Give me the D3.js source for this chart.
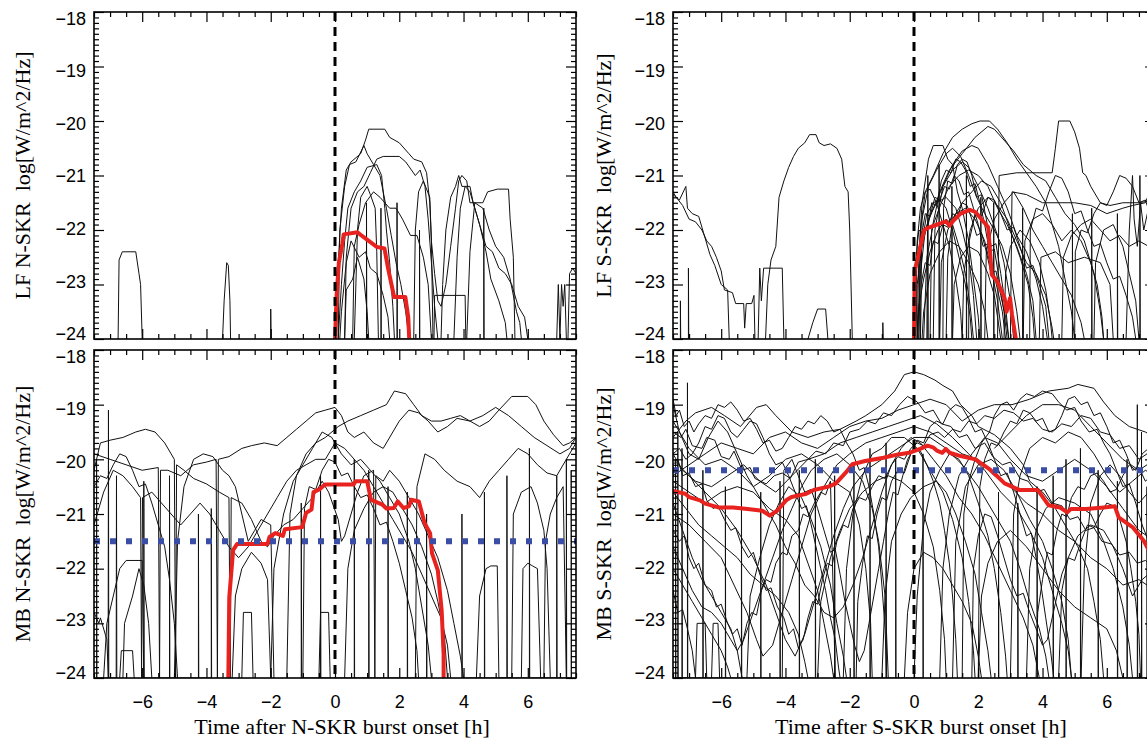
<!DOCTYPE html>
<html>
<head>
<meta charset="utf-8">
<script src="https://cdn.jsdelivr.net/npm/d3@7"></script>
<style>
body{margin:0;background:#fff}
svg{display:block}
</style>
</head>
<body>
<script>
// tick labels
var xTickValues = [-6, -4, -2, 0, 2, 4, 6];
var yTickValues = [-24, -23, -22, -21, -20, -19, -18];

// LF N-SKR: single events (hours after onset, log power)
var lfNorthTraces = [
  [[-6.75,-24],[-6.72,-22.55],[-6.62,-22.4],[-6.2,-22.4],[-6.1,-22.8],[-6.05,-23.0],[-6.0,-24]],
  [[-3.5,-24],[-3.45,-23.3],[-3.37,-22.6],[-3.32,-22.65],[-3.27,-23.3],[-3.25,-24]],
  [[-2.0,-24],[-2.0,-23.45],[-1.99,-24]],
  [[0.05,-24],[0.1,-22.6],[0.2,-21.6],[0.35,-20.9],[0.5,-20.75],[0.8,-20.6],[0.95,-20.35],[1.05,-20.15],[1.55,-20.15],[1.7,-20.3],[2.0,-20.4],[2.3,-20.6],[2.45,-20.7],[2.7,-20.75],[2.85,-20.95],[2.95,-21.5],[3.0,-22.2],[3.1,-22.8],[3.2,-23.3],[3.3,-23.4],[3.45,-23.0],[3.6,-22.3],[3.75,-21.6],[3.85,-21.1],[3.95,-21.0],[4.1,-21.1],[4.2,-21.5],[4.3,-21.5],[4.5,-21.9],[4.7,-22.4],[4.85,-22.9],[5.1,-23.3],[5.3,-23.7],[5.35,-24]],
  [[0.1,-24],[0.15,-22.0],[0.3,-21.2],[0.45,-20.8],[0.65,-20.75],[0.9,-20.45],[1.0,-20.6],[1.2,-20.8],[1.4,-21.0],[1.6,-21.6],[1.75,-22.1],[1.9,-22.6],[2.05,-23.0],[2.2,-23.5],[2.3,-24]],
  [[0.3,-24],[0.35,-22.5],[0.5,-21.6],[0.7,-21.3],[0.9,-21.2],[1.1,-20.95],[1.3,-20.7],[1.5,-20.65],[2.0,-20.65],[2.2,-20.75],[2.5,-21.0],[2.65,-20.9],[2.8,-21.2],[2.9,-21.8],[3.0,-22.6],[3.1,-23.4],[3.2,-24]],
  [[3.3,-24],[3.35,-23.0],[3.45,-22.0],[3.6,-21.4],[3.75,-21.2],[3.85,-21.0],[3.95,-21.2],[4.2,-21.2],[4.3,-21.5],[4.6,-21.5],[4.75,-21.3],[5.05,-21.25],[5.4,-21.25],[5.45,-21.8],[5.55,-22.5],[5.6,-24]],
  [[3.7,-24],[3.8,-22.5],[3.9,-21.6],[4.05,-21.2],[4.2,-21.3],[4.5,-21.9],[4.7,-22.3],[4.9,-22.4],[5.1,-22.7],[5.3,-22.8],[5.5,-23.0],[5.7,-23.4],[5.9,-23.6],[6.0,-24]],
  [[4.1,-24],[4.2,-22.4],[4.35,-21.5],[4.6,-21.6],[4.8,-22.0],[5.0,-22.3],[5.25,-22.5],[5.45,-22.9],[5.65,-23.5],[5.75,-23.7],[5.8,-24]],
  [[0.1,-24],[0.2,-23.0],[0.3,-22.2],[0.4,-21.6],[0.6,-21.3],[0.8,-21.1],[1.0,-20.85],[1.3,-20.8],[1.45,-21.0],[1.55,-21.6],[1.6,-22.0],[1.7,-22.6],[1.8,-23.4],[1.85,-24]],
  [[0.55,-24],[0.6,-22.3],[0.75,-21.9],[0.95,-21.5],[1.2,-21.3],[1.4,-21.4],[1.7,-21.6],[1.9,-21.6],[2.1,-21.8],[2.35,-22.1],[2.55,-22.1],[2.75,-22.5],[2.9,-23.0],[3.0,-24]],
  [[0.15,-24],[0.2,-23.5],[0.35,-22.6],[0.5,-22.2],[0.75,-22.5],[0.95,-22.4],[1.1,-22.7],[1.3,-22.8],[1.5,-23.2],[1.65,-23.6],[1.7,-24]],
  [[0.3,-24],[0.35,-23.1],[0.55,-22.9],[0.7,-22.5],[0.9,-22.9],[1.0,-23.5],[1.05,-24]],
  [[0.6,-24],[0.7,-22.0],[0.8,-21.4],[1.0,-21.2],[1.1,-21.35],[1.25,-21.6],[1.3,-22.4],[1.35,-24]],
  [[2.45,-24],[2.5,-22.0],[2.6,-21.3],[2.75,-21.1],[2.95,-21.4],[3.0,-22.2],[3.05,-24]],
  [[3.08,-24],[3.1,-23.2],[4.05,-23.2],[4.07,-24]],
  [[0.98,-24],[0.98,-21.5],[0.99,-24],[1.43,-24],[1.43,-21.6],[1.44,-24],[1.93,-24],[1.93,-21.5],[1.94,-24],[2.63,-24],[2.63,-22.0],[2.64,-24],[4.63,-24],[4.63,-21.6],[4.64,-24]],
  [[6.9,-24],[6.95,-23.0],[7.0,-24],[7.05,-23.0],[7.1,-23.4],[7.15,-23.0],[7.2,-24]],
  [[7.25,-24],[7.3,-22.8],[7.4,-22.7],[7.5,-22.8]]
];
var lfNorthMean = [[0,-24],[0.05,-23.2],[0.12,-22.6],[0.23,-22.25],[0.27,-22.08],[0.7,-22.04],[0.82,-22.1],[1.3,-22.31],[1.54,-22.34],[1.65,-22.7],[1.84,-23.23],[2.19,-23.23],[2.28,-23.6],[2.31,-24]];

// MB N-SKR
var mbNorthTraces = [
  [[-7.5,-20.2],[-7.3,-19.7],[-7.0,-19.65],[-6.6,-19.6],[-6.2,-19.5],[-5.9,-19.45],[-5.6,-19.5],[-5.3,-19.7],[-5.0,-20.0],[-4.96,-24],[-4.93,-20.1],[-4.7,-20.2],[-4.4,-20.35],[-4.0,-20.45],[-3.6,-20.6],[-3.3,-20.7],[-3.26,-24],[-3.23,-20.7],[-2.9,-20.8],[-2.6,-21.1],[-2.3,-21.5],[-2.1,-21.6],[-1.9,-21.4],[-1.6,-21.2],[-1.3,-21.1],[-1.0,-20.9],[-0.7,-20.7],[-0.4,-20.4],[-0.2,-20.6],[0.1,-21.1],[0.2,-21.5],[0.3,-21.4],[0.5,-21.0],[0.7,-20.6],[0.9,-20.3],[1.2,-20.2],[1.24,-24],[1.27,-20.3],[1.5,-20.4],[1.7,-20.2],[2.0,-20.4],[2.3,-20.7],[2.6,-21.0],[2.9,-21.4],[3.2,-21.8],[3.5,-22.4],[3.7,-23.0],[3.9,-23.6],[4.0,-24]],
  [[-7.5,-19.9],[-7.0,-20.0],[-6.5,-20.1],[-6.0,-20.2],[-5.5,-20.15],[-5.46,-24],[-5.43,-20.2],[-5.2,-20.2],[-4.8,-20.3],[-4.4,-20.1],[-4.0,-20.05],[-3.7,-20.0],[-3.66,-24],[-3.63,-20.0],[-3.3,-19.95],[-2.9,-19.8],[-2.6,-19.75],[-2.2,-19.7],[-1.8,-19.75],[-1.5,-19.6],[-1.2,-19.45],[-0.9,-19.3],[-0.6,-19.15],[-0.3,-19.1],[0.0,-19.05],[0.2,-19.2],[0.4,-19.5],[0.6,-19.6],[0.9,-19.5],[1.2,-19.7],[1.5,-19.8],[1.8,-19.5],[2.0,-19.3],[2.3,-19.1],[2.6,-19.15],[2.9,-19.3],[3.2,-19.5],[3.5,-19.4],[3.8,-19.25],[4.2,-19.3],[4.6,-19.2],[5.0,-19.05],[5.4,-19.2],[5.8,-19.4],[6.2,-19.6],[6.6,-19.75],[7.0,-19.9],[7.3,-19.8],[7.5,-19.6]],
  [[-1.5,-24],[-1.4,-21.0],[-1.2,-20.3],[-0.9,-19.9],[-0.6,-19.7],[-0.3,-19.6],[0.1,-19.4],[0.4,-19.3],[0.8,-19.2],[1.2,-19.1],[1.6,-19.0],[1.85,-18.75],[2.2,-18.8],[2.45,-19.0],[2.7,-19.2],[3.0,-19.3],[3.3,-19.3],[3.6,-19.25],[3.9,-19.2],[4.2,-19.3],[4.5,-19.4],[4.8,-19.3],[5.1,-19.1],[5.5,-18.85],[6.0,-18.85],[6.25,-19.0],[6.5,-19.3],[6.8,-19.55],[7.1,-19.75],[7.3,-19.7],[7.5,-19.6]],
  [[-7.5,-21.2],[-7.2,-20.6],[-6.9,-20.2],[-6.6,-20.3],[-6.3,-20.5],[-6.05,-20.7],[-6.02,-24],[-5.99,-20.7],[-5.7,-20.6],[-5.4,-20.8],[-5.1,-21.0],[-4.8,-21.2],[-4.5,-21.0],[-4.2,-20.8],[-3.9,-21.0],[-3.6,-21.3],[-3.3,-21.6],[-3.0,-21.8],[-2.7,-21.6],[-2.4,-21.3],[-2.1,-21.0],[-1.8,-20.7],[-1.5,-20.4],[-1.2,-20.2],[-0.9,-20.1],[-0.6,-20.0],[-0.3,-20.0],[0.0,-19.7],[0.3,-19.8],[0.6,-20.0],[0.9,-20.2],[1.2,-20.5],[1.5,-20.8],[1.8,-21.1],[2.1,-21.4],[2.4,-21.7],[2.7,-22.1],[3.0,-22.5],[3.3,-22.9],[3.5,-23.4],[3.6,-24]],
  [[2.5,-24],[2.55,-20.5],[2.8,-19.9],[3.1,-20.0],[3.4,-20.2],[3.8,-20.4],[4.2,-20.5],[4.5,-20.7],[4.8,-20.4],[5.1,-20.2],[5.4,-20.0],[5.7,-19.8],[6.0,-19.9],[6.3,-20.1],[6.6,-20.25],[6.9,-20.3],[7.2,-20.0],[7.5,-19.7]],
  [[4.4,-24],[4.5,-22.5],[4.7,-22.0],[4.85,-21.95],[5.05,-21.95],[5.1,-24],[5.5,-24],[5.55,-21.0],[5.8,-20.6],[6.1,-20.5],[6.3,-20.8],[6.5,-21.3],[6.6,-22.0],[6.7,-24]],
  [[-7.2,-24],[-7.1,-23.0],[-6.9,-22.5],[-6.7,-22.0],[-6.5,-21.85],[-6.0,-21.85],[-5.95,-24]],
  [[-6.6,-24],[-6.55,-23.0],[-6.3,-22.5],[-6.1,-22.0],[-5.95,-22.3],[-5.8,-23.0],[-5.7,-24]],
  [[-7.42,-24],[-7.42,-20.0],[-7.41,-24],[-7.06,-24],[-7.05,-19.1],[-7.04,-24],[-6.81,-24],[-6.8,-20.3],[-6.79,-24]],
  [[-5.0,-24],[-4.9,-21.5],[-4.7,-20.5],[-4.4,-20.0],[-4.1,-19.9],[-3.8,-19.95],[-3.5,-20.2],[-3.3,-20.3],[-3.1,-20.5],[-2.9,-21.0],[-2.7,-21.5],[-2.5,-21.3],[-2.3,-21.1],[-2.0,-21.2],[-1.9,-24]],
  [[-2.0,-24],[-1.9,-22.0],[-1.6,-21.0],[-1.3,-20.4],[-1.0,-20.1],[-0.7,-19.8],[-0.4,-19.5],[-0.1,-19.6],[0.2,-19.9],[0.5,-20.1],[0.8,-20.0],[1.1,-20.2],[1.4,-20.4],[1.7,-20.7],[2.0,-21.0],[2.3,-21.5],[2.5,-22.0],[2.7,-22.7],[2.9,-23.4],[3.0,-24]],
  [[0.3,-24],[0.4,-22.0],[0.6,-21.3],[0.9,-20.9],[1.2,-20.6],[1.5,-20.5],[1.8,-20.6],[2.1,-20.9],[2.4,-21.2],[2.7,-21.6],[3.0,-22.1],[3.2,-22.6],[3.4,-23.2],[3.5,-24]],
  [[-3.2,-24],[-3.1,-22.5],[-2.9,-22.0],[-2.6,-21.7],[-2.3,-21.9],[-2.1,-22.2],[-2.0,-24]],
  [[-2.9,-24],[-2.85,-22.8],[-2.6,-22.8],[-2.55,-24]],
  [[-0.5,-24],[-0.45,-22.8],[-0.2,-22.8],[-0.15,-24]],
  [[6.5,-24],[6.55,-21.5],[6.7,-21.0],[6.9,-20.7],[7.1,-20.5],[7.2,-24],[7.35,-24],[7.35,-20.2],[7.36,-24]],
  [[-7.5,-22.8],[-7.35,-23.0],[-7.3,-22.9],[-7.1,-23.3],[-7.05,-24]],
  [[-6.7,-24],[-6.65,-23.5],[-6.3,-23.5],[-6.25,-24]],
  [[-5.95,-24],[-5.95,-20.4],[-5.94,-24],[-5.15,-24],[-5.15,-20.3],[-5.14,-24],[-4.25,-24],[-4.25,-21.0],[-4.24,-24],[-3.85,-24],[-3.85,-20.9],[-3.84,-24]],
  [[-1.05,-24],[-1.05,-20.8],[-1.04,-24],[-0.45,-24],[-0.45,-20.3],[-0.44,-24],[0.6,-24],[0.6,-20.0],[0.61,-24],[1.05,-24],[1.05,-20.2],[1.06,-24],[1.65,-24],[1.65,-20.5],[1.66,-24],[2.25,-24],[2.25,-20.6],[2.26,-24],[2.85,-24],[2.85,-21.0],[2.86,-24]],
  [[3.95,-24],[3.95,-21.0],[3.96,-24],[4.65,-24],[4.65,-20.6],[4.66,-24],[5.35,-24],[5.35,-20.3],[5.36,-24],[6.05,-24],[6.05,-19.8],[6.06,-24],[6.9,-24],[6.9,-20.3],[6.91,-24],[7.2,-24],[7.2,-20.0],[7.21,-24]],
  [[-7.5,-20.5],[-7.3,-20.3],[-7.1,-20.35],[-6.9,-20.1],[-6.7,-19.9],[-6.5,-19.95],[-6.3,-20.2],[-6.1,-20.5],[-5.9,-20.45],[-5.7,-20.8],[-5.5,-21.2],[-5.3,-21.6],[-5.15,-22.2],[-5.0,-23.0],[-4.9,-24]],
  [[-1.0,-24],[-0.95,-20.9],[-0.8,-20.5],[-0.6,-20.55],[-0.4,-20.2],[-0.2,-20.0],[0.0,-20.05],[0.2,-20.3],[0.4,-20.25],[0.6,-20.5],[0.8,-20.7],[1.0,-20.65],[1.2,-20.9],[1.4,-21.2],[1.6,-21.15],[1.8,-21.5],[2.0,-21.9],[2.2,-22.4],[2.4,-22.9],[2.55,-23.5],[2.6,-24]],
  [[5.8,-24],[5.85,-22.0],[6.0,-21.9],[6.15,-21.95],[6.3,-22.0],[6.4,-24]]
];
var mbNorthMean = [[-3.32,-24],[-3.29,-22.52],[-3.17,-21.66],[-3.05,-21.55],[-2.1,-21.55],[-2.04,-21.42],[-1.86,-21.35],[-1.62,-21.4],[-1.56,-21.28],[-1.02,-21.24],[-0.9,-20.98],[-0.73,-20.92],[-0.67,-20.6],[-0.49,-20.55],[-0.31,-20.46],[0.58,-20.46],[0.64,-20.4],[1.0,-20.4],[1.12,-20.74],[1.48,-20.83],[1.6,-20.9],[1.83,-20.89],[1.95,-20.77],[2.13,-20.89],[2.3,-20.86],[2.37,-20.74],[2.61,-20.77],[2.79,-21.17],[2.96,-21.35],[3.02,-21.72],[3.2,-22.03],[3.32,-22.77],[3.38,-23.57],[3.38,-24]];
var mbNorthLevel = -21.5;

// LF S-SKR
var lfSouthTraces = [
  [[-7.5,-21.35],[-7.3,-21.45],[-7.1,-21.2],[-7.05,-21.6],[-6.9,-21.7],[-6.7,-21.75],[-6.55,-22.05],[-6.35,-22.45],[-6.2,-22.65],[-6.0,-23.0],[-5.8,-23.1],[-5.75,-24]],
  [[-7.5,-21.3],[-7.4,-21.4],[-7.2,-21.55],[-7.0,-21.8],[-6.8,-21.85],[-6.6,-22.0],[-6.45,-22.2],[-6.3,-22.3],[-6.15,-22.5],[-6.0,-22.75],[-5.9,-23.1],[-5.65,-23.15],[-5.55,-23.35],[-5.3,-23.35],[-5.27,-23.8],[-5.22,-23.35],[-5.05,-23.35],[-4.98,-23.2],[-4.95,-24]],
  [[-4.62,-24],[-4.55,-23.0],[-4.45,-22.55],[-4.3,-22.3],[-4.2,-21.4],[-4.05,-21.1],[-3.9,-20.85],[-3.75,-20.65],[-3.6,-20.5],[-3.4,-20.4],[-3.25,-20.25],[-3.05,-20.25],[-2.95,-20.4],[-2.8,-20.45],[-2.6,-20.42],[-2.4,-20.5],[-2.25,-20.7],[-2.15,-21.2],[-2.05,-21.3],[-2.0,-22.0],[-1.92,-24]],
  [[-4.85,-24],[-4.8,-22.7],[-4.75,-23.3],[-4.68,-22.7],[-4.1,-22.7],[-4.05,-24]],
  [[-3.3,-24],[-3.15,-23.7],[-3.0,-23.45],[-2.75,-23.45],[-2.68,-24]],
  [[-7.27,-24],[-7.27,-23.3],[-7.26,-24],[-7.02,-24],[-7.02,-22.7],[-7.01,-24]],
  [[-0.97,-24],[-0.97,-23.7],[-0.96,-24]],
  [[0.15,-24],[0.2,-22.0],[0.35,-21.3],[0.6,-21.0],[0.9,-20.6],[1.2,-20.3],[1.5,-20.15],[1.8,-20.05],[2.05,-20.0],[2.35,-20.0],[2.6,-20.15],[2.9,-20.4],[3.2,-20.7],[3.5,-20.95],[3.8,-21.2],[4.1,-21.5],[4.3,-21.9],[4.5,-22.3],[4.7,-22.9],[4.9,-23.5],[5.0,-24]],
  [[0.5,-24],[0.55,-22.0],[0.8,-21.3],[1.1,-20.9],[1.5,-20.6],[1.9,-20.3],[2.3,-20.1],[2.5,-20.15],[2.8,-20.35],[3.1,-20.55],[3.4,-20.8],[3.8,-21.0],[4.1,-21.1],[4.4,-21.4],[4.7,-21.7],[5.0,-21.9],[5.3,-22.2],[5.6,-22.8],[5.8,-23.5],[5.9,-24]],
  [[0.1,-24],[0.15,-22.5],[0.25,-21.5],[0.45,-20.7],[0.6,-20.45],[0.9,-20.45],[1.05,-20.7],[1.2,-20.8],[1.35,-21.3],[1.5,-21.6],[1.7,-22.2],[1.85,-22.9],[2.0,-23.6],[2.05,-24]],
  [[2.6,-24],[2.65,-21.0],[3.2,-20.95],[4.3,-20.95],[4.4,-20.5],[4.5,-20.0],[4.85,-20.0],[5.0,-20.2],[5.15,-20.5],[5.25,-20.95],[5.35,-21.0],[5.5,-21.2],[5.8,-21.5],[6.1,-21.55],[6.5,-21.5],[7.0,-21.5],[7.5,-21.45]],
  [[3.0,-24],[3.05,-21.3],[3.5,-21.35],[4.0,-21.5],[4.5,-21.5],[5.0,-21.5],[5.5,-21.55],[6.0,-21.7],[6.5,-21.6],[6.8,-21.55],[7.2,-21.5],[7.4,-21.2],[7.5,-21.0]],
  [[6.6,-24],[6.7,-22.0],[6.8,-21.0],[6.85,-21.8],[6.95,-22.3],[7.05,-21.5],[7.15,-22.0],[7.3,-21.6],[7.5,-21.8]],
  [[0.1,-24],[0.2,-22.8],[0.35,-22.0],[0.6,-21.6],[0.9,-21.2],[1.2,-20.9],[1.5,-20.75],[1.7,-20.85],[2.0,-21.2],[2.3,-21.6],[2.6,-22.1],[2.8,-22.6],[3.0,-23.3],[3.1,-24]],
  [[0.2,-24],[0.25,-21.8],[0.45,-21.2],[0.7,-20.9],[1.0,-20.6],[1.2,-20.5],[1.45,-20.65],[1.7,-21.0],[1.95,-21.4],[2.2,-21.7],[2.5,-22.0],[2.75,-22.3],[3.0,-22.8],[3.2,-23.5],[3.3,-24]],
  [[0.05,-24],[0.1,-23.0],[0.25,-22.3],[0.45,-21.8],[0.7,-21.5],[1.0,-21.4],[1.3,-21.6],[1.5,-22.0],[1.7,-22.5],[1.85,-23.2],[1.95,-24]],
  [[0.3,-24],[0.4,-22.5],[0.6,-21.9],[0.85,-21.5],[1.1,-21.2],[1.4,-21.0],[1.7,-20.9],[2.0,-21.0],[2.3,-21.2],[2.6,-21.6],[2.9,-21.9],[3.2,-22.3],[3.5,-22.8],[3.7,-23.3],[3.8,-24]],
  [[0.15,-24],[0.2,-22.4],[0.4,-21.7],[0.6,-21.5],[0.8,-21.45],[1.0,-21.6],[1.2,-22.0],[1.4,-22.5],[1.6,-23.0],[1.75,-23.6],[1.8,-24]],
  [[0.6,-24],[0.65,-22.0],[0.9,-21.2],[1.2,-20.8],[1.5,-20.55],[1.8,-20.45],[2.0,-20.5],[2.3,-20.8],[2.6,-21.2],[2.9,-21.6],[3.2,-22.1],[3.5,-22.4],[3.8,-22.9],[4.0,-23.4],[4.15,-24]],
  [[1.0,-24],[1.05,-22.5],[1.2,-21.8],[1.5,-21.5],[1.8,-21.3],[2.1,-21.1],[2.4,-21.2],[2.7,-21.5],[3.0,-22.0],[3.3,-22.5],[3.55,-23.0],[3.7,-23.6],[3.75,-24]],
  [[0.25,-24],[0.3,-23.5],[0.5,-22.8],[0.8,-22.4],[1.1,-22.2],[1.4,-22.3],[1.7,-22.6],[2.0,-23.0],[2.2,-23.5],[2.3,-24]],
  [[1.5,-24],[1.55,-22.8],[1.75,-22.0],[2.0,-21.6],[2.3,-21.4],[2.6,-21.55],[2.9,-21.8],[3.2,-22.2],[3.5,-22.6],[3.8,-22.8],[4.1,-23.2],[4.3,-23.8],[4.35,-24]],
  [[2.2,-24],[2.25,-22.4],[2.5,-21.8],[2.8,-21.5],[3.1,-21.3],[3.4,-21.6],[3.7,-22.0],[4.0,-22.3],[4.3,-22.6],[4.6,-22.9],[4.9,-23.2],[5.2,-23.7],[5.3,-24]],
  [[3.4,-24],[3.45,-22.2],[3.7,-21.8],[4.0,-21.7],[4.3,-21.9],[4.6,-22.2],[4.9,-22.0],[5.2,-22.2],[5.5,-22.6],[5.7,-23.0],[5.85,-23.6],[5.9,-24]],
  [[4.6,-24],[4.65,-22.5],[4.9,-22.1],[5.2,-21.9],[5.5,-21.8],[5.8,-22.0],[6.1,-22.2],[6.4,-22.1],[6.7,-22.3],[7.0,-22.2],[7.3,-22.3],[7.5,-22.4]],
  [[5.6,-24],[5.65,-22.6],[5.9,-22.0],[6.2,-21.9],[6.5,-22.3],[6.7,-22.8],[6.9,-23.3],[7.0,-24]],
  [[0.05,-24],[0.1,-22.2],[0.2,-21.6],[0.35,-21.3],[0.5,-21.25],[0.7,-21.5],[0.9,-21.9],[1.1,-22.3],[1.3,-22.9],[1.45,-23.5],[1.5,-24]],
  [[0.1,-24],[0.15,-23.4],[0.3,-22.9],[0.5,-22.4],[0.75,-22.0],[1.0,-21.8],[1.2,-21.9],[1.4,-22.3],[1.6,-22.8],[1.75,-23.4],[1.85,-24]],
  [[0.8,-24],[0.85,-22.6],[1.05,-22.0],[1.3,-21.7],[1.6,-21.6],[1.9,-21.8],[2.2,-22.2],[2.4,-22.7],[2.6,-23.3],[2.75,-24]],
  [[1.2,-24],[1.25,-23.0],[1.45,-22.5],[1.7,-22.3],[2.0,-22.4],[2.3,-22.8],[2.5,-23.2],[2.65,-23.8],[2.7,-24]],
  [[2.8,-24],[2.85,-22.8],[3.0,-22.3],[3.3,-22.0],[3.6,-22.2],[3.9,-22.6],[4.1,-23.1],[4.25,-23.7],[4.3,-24]],
  [[3.9,-24],[3.95,-22.5],[4.4,-22.4],[4.8,-22.6],[5.3,-22.5],[5.8,-22.6],[6.1,-23.0],[6.2,-24]],
  [[0.05,-24],[0.08,-22.4],[0.15,-22.0],[0.25,-22.05],[0.35,-21.7],[0.5,-21.75],[0.65,-21.4],[0.8,-21.45],[0.95,-21.2],[1.1,-21.25],[1.25,-21.0],[1.4,-21.1],[1.55,-21.35],[1.7,-21.3],[1.85,-21.6],[2.0,-21.9],[2.15,-22.3],[2.3,-22.25],[2.45,-22.7],[2.6,-23.1],[2.75,-23.5],[2.85,-24]],
  [[0.2,-24],[0.22,-23.0],[0.35,-22.6],[0.5,-22.65],[0.6,-22.2],[0.75,-22.25],[0.9,-21.9],[1.05,-21.95],[1.2,-21.7],[1.35,-21.75],[1.5,-21.5],[1.65,-21.55],[1.8,-21.8],[1.95,-22.1],[2.1,-22.05],[2.25,-22.4],[2.4,-22.8],[2.55,-22.75],[2.7,-23.2],[2.85,-23.6],[2.95,-24]],
  [[0.4,-24],[0.42,-22.0],[0.55,-21.5],[0.7,-21.55],[0.85,-21.1],[1.0,-20.9],[1.15,-20.95],[1.3,-20.7],[1.45,-20.75],[1.6,-20.9],[1.75,-21.2],[1.9,-21.15],[2.05,-21.5],[2.2,-21.9],[2.35,-22.4],[2.5,-22.35],[2.65,-22.9],[2.8,-23.5],[2.9,-24]],
  [[1.7,-24],[1.72,-22.2],[1.9,-21.7],[2.1,-21.75],[2.3,-21.4],[2.5,-21.45],[2.7,-21.7],[2.9,-22.0],[3.1,-21.95],[3.3,-22.3],[3.5,-22.7],[3.7,-22.65],[3.9,-23.0],[4.1,-23.4],[4.2,-24]],
  [[0.9,-24],[0.92,-21.6],[1.05,-21.1],[1.2,-21.15],[1.35,-20.8],[1.5,-20.7],[1.65,-20.75],[1.8,-21.0],[1.95,-21.4],[2.1,-21.35],[2.25,-21.8],[2.4,-22.3],[2.55,-22.25],[2.7,-22.8],[2.85,-23.4],[2.95,-24]],
  [[3.6,-24],[3.62,-22.0],[3.8,-21.6],[4.0,-21.65],[4.2,-21.3],[4.4,-21.0],[4.6,-21.05],[4.8,-21.3],[5.0,-21.7],[5.2,-21.65],[5.4,-22.0],[5.6,-22.3],[5.8,-22.25],[6.0,-22.6],[6.2,-22.9],[6.4,-22.85],[6.6,-23.2],[6.8,-23.6],[6.9,-24]],
  [[5.0,-24],[5.02,-22.4],[5.2,-22.0],[5.4,-22.05],[5.6,-21.7],[5.8,-21.5],[6.0,-21.55],[6.2,-21.3],[6.4,-21.0],[6.6,-21.05],[6.8,-21.2],[7.0,-21.5],[7.2,-21.45],[7.4,-21.8],[7.5,-22.0]],
  [[0.43,-24],[0.43,-21.0],[0.44,-24],[0.78,-24],[0.78,-20.8],[0.79,-24],[1.18,-24],[1.18,-21.2],[1.19,-24],[1.63,-24],[1.63,-21.0],[1.64,-24],[2.08,-24],[2.08,-21.4],[2.09,-24],[2.48,-24],[2.48,-21.5],[2.49,-24],[3.38,-24],[3.38,-21.6],[3.39,-24],[4.93,-24],[4.93,-21.7],[4.94,-24],[5.53,-24],[5.53,-21.6],[5.54,-24],[6.33,-24],[6.33,-21.7],[6.34,-24],[7.03,-24],[7.03,-21.0],[7.04,-24]]
];
var lfSouthMean = [[0,-24],[0.02,-22.75],[0.14,-22.45],[0.31,-22.01],[0.37,-21.98],[0.48,-21.95],[0.77,-21.89],[0.99,-21.84],[1.11,-21.92],[1.22,-21.83],[1.45,-21.7],[1.74,-21.63],[1.91,-21.67],[2.14,-21.83],[2.31,-21.95],[2.42,-22.82],[2.59,-22.94],[2.82,-23.25],[2.88,-23.5],[2.99,-23.25],[3.05,-23.55],[3.17,-24]];

// MB S-SKR
var mbSouthTraces = [
  [[-7.5,-19.6],[-7.1,-19.3],[-6.8,-19.15],[-6.3,-19.05],[-5.9,-19.2],[-5.4,-19.4],[-4.9,-19.05],[-4.6,-19.0],[-4.3,-19.2],[-3.8,-19.5],[-3.3,-19.6],[-2.8,-19.5],[-2.3,-19.45],[-1.8,-19.3],[-1.5,-19.2],[-1.0,-19.0],[-0.6,-18.75],[-0.3,-18.45],[0.0,-18.4],[0.3,-18.45],[0.65,-18.55],[0.9,-18.65],[1.2,-18.75],[1.45,-19.0],[1.8,-19.2],[2.0,-19.4],[2.5,-19.55],[3.0,-19.8],[3.4,-20.1],[3.6,-20.4],[4.0,-20.6],[4.4,-20.9],[4.8,-21.3],[5.1,-21.6],[5.4,-22.0],[5.6,-22.6],[5.8,-23.3],[5.9,-24]],
  [[-7.5,-20.3],[-7.0,-20.1],[-6.5,-19.9],[-6.0,-19.7],[-5.5,-19.8],[-5.0,-19.9],[-4.5,-19.6],[-4.0,-19.5],[-3.5,-19.7],[-3.0,-19.8],[-2.5,-19.6],[-2.0,-19.4],[-1.5,-19.3],[-1.0,-19.25],[-0.5,-19.1],[0.0,-19.0],[0.5,-18.9],[1.0,-19.0],[1.5,-19.3],[2.0,-19.1],[2.5,-19.0],[3.05,-19.0],[3.6,-18.9],[4.2,-18.75],[4.8,-18.7],[5.1,-18.63],[5.6,-18.7],[5.9,-18.95],[6.25,-19.2],[6.7,-19.4],[7.2,-19.5],[7.5,-19.6]],
  [[-7.5,-19.9],[-7.2,-20.2],[-6.8,-20.4],[-6.3,-20.5],[-5.8,-20.3],[-5.3,-20.1],[-4.8,-20.4],[-4.3,-20.6],[-3.8,-20.3],[-3.3,-20.0],[-2.8,-19.9],[-2.3,-19.7],[-1.8,-19.6],[-1.3,-19.5],[-0.8,-19.4],[-0.3,-19.3],[0.2,-19.2],[0.7,-19.35],[1.2,-19.6],[1.7,-19.9],[2.2,-20.2],[2.7,-20.6],[3.2,-20.9],[3.6,-21.3],[4.0,-21.8],[4.3,-22.4],[4.6,-23.0],[4.8,-23.5],[4.9,-24]],
  [[-7.5,-21.0],[-7.0,-21.2],[-6.5,-21.5],[-6.0,-21.8],[-5.6,-22.3],[-5.2,-22.8],[-4.9,-23.3],[-4.7,-23.6],[-4.4,-23.4],[-4.1,-22.8],[-3.8,-22.2],[-3.5,-21.6],[-3.2,-21.0],[-2.8,-20.5],[-2.4,-20.1],[-2.0,-19.9],[-1.5,-19.7],[-1.0,-19.6],[-0.5,-19.5],[0.0,-19.4],[0.5,-19.5],[1.0,-19.7],[1.5,-19.9],[2.0,-20.0],[2.5,-20.3],[3.0,-20.5],[3.5,-20.8],[4.0,-21.0],[4.5,-21.3],[5.0,-21.5],[5.5,-21.8],[6.0,-22.0],[6.5,-22.3],[7.0,-22.2],[7.5,-22.4]],
  [[-7.5,-20.8],[-7.2,-21.3],[-6.9,-21.8],[-6.6,-22.2],[-6.3,-22.5],[-6.0,-22.8],[-5.7,-23.1],[-5.5,-23.5],[-5.35,-24]],
  [[-5.2,-24],[-5.1,-22.5],[-4.8,-21.8],[-4.5,-21.2],[-4.2,-20.8],[-3.9,-20.5],[-3.5,-20.7],[-3.2,-21.1],[-2.9,-21.6],[-2.6,-22.3],[-2.4,-23.0],[-2.2,-23.6],[-2.1,-24]],
  [[-7.5,-20.0],[-7.0,-20.3],[-6.5,-20.6],[-6.0,-20.9],[-5.5,-21.3],[-5.0,-21.8],[-4.6,-22.3],[-4.3,-22.8],[-4.0,-23.3],[-3.7,-23.6],[-3.4,-23.2],[-3.1,-22.6],[-2.8,-22.0],[-2.5,-21.4],[-2.2,-20.9],[-1.9,-20.5],[-1.5,-20.2],[-1.0,-20.0],[-0.5,-19.8],[0.0,-19.6],[0.5,-19.6],[1.0,-19.8],[1.5,-20.1],[2.0,-20.5],[2.5,-21.0],[3.0,-21.5],[3.3,-22.0],[3.6,-22.6],[3.9,-23.1],[4.1,-23.6],[4.2,-24]],
  [[-7.5,-22.0],[-7.2,-22.3],[-6.9,-22.6],[-6.6,-22.9],[-6.3,-23.2],[-6.0,-23.5],[-5.8,-23.8],[-5.7,-24]],
  [[2.0,-24],[2.1,-22.5],[2.3,-21.9],[2.6,-21.5],[3.0,-21.3],[3.5,-21.6],[4.0,-22.0],[4.5,-22.4],[5.0,-22.7],[5.5,-22.9],[6.0,-23.1],[6.3,-23.5],[6.5,-24]],
  [[-1.0,-24],[-0.9,-22.5],[-0.7,-21.5],[-0.4,-21.0],[-0.1,-20.7],[0.3,-20.5],[0.7,-20.4],[1.0,-20.6],[1.3,-21.0],[1.6,-21.5],[1.9,-22.1],[2.1,-22.8],[2.3,-23.5],[2.4,-24]],
  [[-0.3,-24],[-0.2,-22.8],[0.0,-22.0],[0.3,-21.7],[0.6,-21.8],[0.9,-22.0],[1.2,-22.3],[1.5,-22.6],[1.8,-23.0],[2.0,-23.6],[2.1,-24]],
  [[2.5,-19.8],[3.0,-19.5],[3.5,-19.2],[4.0,-19.0],[4.5,-19.0],[5.0,-19.1],[5.5,-19.4],[6.0,-19.7],[6.5,-20.0],[7.0,-20.2],[7.5,-20.0]],
  [[-7.5,-19.3],[-7.0,-19.8],[-6.5,-20.1],[-6.0,-20.0],[-5.5,-20.2],[-5.0,-20.5],[-4.5,-20.3],[-4.0,-20.0],[-3.5,-19.9],[-3.0,-20.1],[-2.5,-20.4],[-2.0,-20.6],[-1.7,-21.2],[-1.5,-22.0],[-1.35,-23.0],[-1.3,-24]],
  [[0.8,-24],[0.9,-22.0],[1.1,-21.0],[1.4,-20.3],[1.8,-19.9],[2.2,-19.6],[2.6,-19.7],[3.0,-20.0],[3.5,-20.3],[4.0,-20.4],[4.5,-20.2],[5.0,-20.0],[5.5,-20.2],[6.0,-20.5],[6.5,-20.9],[7.0,-21.3],[7.5,-21.5]],
  [[3.5,-24],[3.6,-22.0],[3.8,-21.3],[4.1,-20.9],[4.5,-20.7],[5.0,-20.8],[5.5,-21.0],[5.9,-21.5],[6.2,-22.0],[6.5,-22.7],[6.7,-23.4],[6.8,-24]],
  [[-7.5,-20.6],[-7.1,-20.9],[-6.7,-21.2],[-6.3,-21.4],[-5.9,-21.6],[-5.5,-21.8],[-5.1,-22.1],[-4.7,-22.3],[-4.3,-22.5],[-3.9,-22.8],[-3.6,-23.2],[-3.4,-23.7],[-3.3,-24]],
  [[-3.0,-24],[-2.9,-22.6],[-2.6,-21.8],[-2.3,-21.3],[-2.0,-20.9],[-1.6,-20.6],[-1.2,-20.4],[-0.8,-20.3],[-0.4,-20.4],[0.0,-20.6],[0.3,-21.0],[0.6,-21.6],[0.8,-22.4],[0.95,-23.3],[1.0,-24]],
  [[-7.5,-21.6],[-7.2,-22.0],[-6.9,-22.4],[-6.6,-22.7],[-6.3,-22.8],[-6.0,-23.0],[-5.7,-23.3],[-5.5,-23.5],[-5.3,-23.3],[-5.0,-22.8],[-4.7,-22.3],[-4.4,-21.8],[-4.1,-21.3],[-3.8,-20.9],[-3.5,-20.5],[-3.2,-20.2],[-2.8,-20.0],[-2.4,-19.9],[-2.0,-20.1],[-1.6,-20.4],[-1.3,-20.9],[-1.1,-21.5],[-0.9,-22.5],[-0.8,-24]],
  [[4.5,-24],[4.6,-22.4],[4.8,-21.8],[5.1,-21.4],[5.5,-21.2],[5.9,-21.3],[6.2,-21.6],[6.5,-22.0],[6.8,-22.5],[7.1,-22.2],[7.5,-22.0]],
  [[5.2,-24],[5.3,-22.0],[5.5,-20.8],[5.8,-20.3],[6.1,-20.1],[6.4,-20.3],[6.7,-20.6],[7.0,-20.8],[7.3,-20.6],[7.5,-20.4]],
  [[-7.35,-24],[-7.35,-19.5],[-7.34,-24],[-7.05,-24],[-7.05,-18.6],[-7.04,-24]],
  [[-6.8,-24],[-6.75,-23.0],[-6.5,-23.0],[-6.45,-24]],
  [[-6.3,-24],[-6.25,-23.0],[-6.1,-23.0],[-6.05,-24]],
  [[0.0,-24],[0.1,-22.5],[0.3,-21.2],[0.5,-20.6],[0.8,-20.2],[1.1,-19.9],[1.4,-20.0],[1.7,-20.3],[2.0,-20.8],[2.3,-21.4],[2.5,-22.0],[2.7,-22.8],[2.85,-23.6],[2.9,-24]],
  [[-7.5,-19.0],[-7.3,-19.5],[-7.0,-19.9],[-6.7,-20.0],[-6.4,-19.6],[-6.1,-19.3],[-5.8,-19.5],[-5.5,-19.9],[-5.2,-20.3],[-4.9,-20.6],[-4.6,-20.9],[-4.3,-21.2],[-4.0,-21.6],[-3.7,-21.9],[-3.4,-22.3],[-3.1,-22.5],[-2.8,-22.8],[-2.5,-22.9],[-2.2,-22.7],[-1.9,-22.3],[-1.6,-21.8],[-1.3,-21.2],[-1.0,-20.6],[-0.7,-20.1],[-0.4,-19.8],[-0.1,-19.6],[0.2,-19.7],[0.6,-20.0],[1.0,-20.3],[1.4,-20.7],[1.8,-21.0],[2.2,-21.4],[2.6,-21.9],[3.0,-22.4],[3.4,-22.9],[3.7,-23.4],[3.9,-24]],
  [[3.0,-24],[3.1,-21.0],[3.3,-20.3],[3.6,-19.8],[4.0,-19.6],[4.4,-19.7],[4.8,-19.5],[5.2,-19.6],[5.6,-19.9],[6.0,-20.3],[6.4,-20.6],[6.8,-20.4],[7.2,-20.2],[7.5,-20.3]],
  [[6.95,-24],[6.95,-19.0],[6.96,-24],[7.25,-24],[7.25,-20.5],[7.26,-24]],
  [[-7.5,-20.4],[-7.0,-20.6],[-6.5,-20.8],[-6.0,-20.6],[-5.5,-20.5],[-5.0,-20.6],[-4.5,-20.9],[-4.0,-21.1],[-3.6,-21.4],[-3.3,-21.9],[-3.0,-22.4],[-2.8,-23.0],[-2.6,-23.6],[-2.5,-24]],
  [[-2.2,-24],[-2.1,-22.0],[-1.9,-21.0],[-1.6,-20.3],[-1.3,-19.9],[-1.0,-19.8],[-0.7,-19.6],[-0.3,-19.6],[0.1,-19.8],[0.5,-20.2],[0.9,-20.6],[1.2,-21.1],[1.5,-21.8],[1.7,-22.6],[1.85,-23.5],[1.9,-24]],
  [[1.2,-24],[1.3,-21.5],[1.6,-20.5],[2.0,-20.1],[2.4,-20.0],[2.8,-20.2],[3.2,-20.6],[3.6,-21.1],[4.0,-21.5],[4.3,-22.0],[4.6,-22.6],[4.8,-23.3],[4.9,-24]],
  [[-7.42,-24],[-7.42,-20.0],[-7.41,-24],[-7.22,-24],[-7.22,-19.8],[-7.21,-24],[-6.57,-24],[-6.57,-20.2],[-6.56,-24],[-5.87,-24],[-5.87,-20.5],[-5.86,-24],[-5.37,-24],[-5.37,-20.1],[-5.36,-24],[-4.77,-24],[-4.77,-20.6],[-4.76,-24],[-4.17,-24],[-4.17,-20.4],[-4.16,-24],[-3.57,-24],[-3.57,-20.2],[-3.56,-24],[-3.07,-24],[-3.07,-20.0],[-3.06,-24]],
  [[-2.47,-24],[-2.47,-20.3],[-2.46,-24],[-1.87,-24],[-1.87,-20.1],[-1.86,-24],[-1.37,-24],[-1.37,-19.8],[-1.36,-24],[-0.87,-24],[-0.87,-19.7],[-0.86,-24],[-0.57,-24],[-0.57,-20.0],[-0.56,-24],[0.28,-24],[0.28,-19.9],[0.29,-24]],
  [[2.63,-24],[2.63,-20.6],[2.64,-24],[3.23,-24],[3.23,-20.8],[3.24,-24],[3.83,-24],[3.83,-20.5],[3.84,-24],[4.33,-24],[4.33,-20.3],[4.34,-24],[4.73,-24],[4.73,-20.0],[4.74,-24],[5.18,-24],[5.18,-19.8],[5.19,-24],[5.73,-24],[5.73,-20.2],[5.74,-24],[6.33,-24],[6.33,-20.4],[6.34,-24],[6.63,-24],[6.63,-20.0],[6.64,-24],[7.08,-24],[7.08,-19.5],[7.09,-24]],
  [[-7.5,-19.5],[-7.25,-19.6],[-7.1,-19.45],[-6.9,-19.75],[-6.6,-19.8],[-6.45,-19.6],[-6.2,-19.65],[-6.0,-19.95],[-5.75,-20.0],[-5.6,-19.85],[-5.35,-20.2],[-5.1,-20.15],[-4.95,-20.35],[-4.6,-20.45],[-4.35,-20.3],[-4.1,-20.25],[-3.85,-20.35],[-3.6,-20.05],[-3.3,-20.0],[-3.05,-19.85],[-2.75,-19.9],[-2.5,-19.7],[-2.2,-19.75],[-2.0,-19.5],[-1.7,-19.45],[-1.45,-19.3],[-1.2,-19.35],[-0.95,-19.15],[-0.7,-19.2],[-0.45,-19.0],[-0.2,-18.85],[0.1,-18.95],[0.35,-19.15],[0.6,-19.1],[0.85,-19.35],[1.15,-19.4],[1.4,-19.6],[1.65,-19.55],[1.9,-19.8],[2.2,-19.7],[2.45,-19.95],[2.75,-20.1],[3.0,-20.05],[3.3,-20.35],[3.55,-20.4],[3.8,-20.6],[4.05,-20.55],[4.3,-20.8],[4.6,-20.85],[4.85,-21.1],[5.1,-21.05],[5.35,-21.3],[5.6,-21.25],[5.85,-21.5],[6.15,-21.55],[6.4,-21.75],[6.7,-21.7],[6.95,-21.9],[7.2,-21.85],[7.5,-22.0]],
  [[-7.5,-21.3],[-7.3,-21.5],[-7.15,-21.4],[-7.0,-21.8],[-6.85,-22.0],[-6.7,-21.9],[-6.5,-22.3],[-6.3,-22.4],[-6.15,-22.7],[-6.0,-22.65],[-5.8,-23.0],[-5.65,-23.2],[-5.5,-23.1],[-5.35,-23.4],[-5.2,-23.0],[-5.05,-22.8],[-4.9,-22.85],[-4.75,-22.4],[-4.6,-22.2],[-4.45,-22.25],[-4.3,-21.9],[-4.1,-21.7],[-3.95,-21.75],[-3.8,-21.4],[-3.6,-21.3],[-3.45,-21.0],[-3.3,-21.05],[-3.1,-20.8],[-2.9,-20.6],[-2.75,-20.65],[-2.6,-20.4],[-2.45,-24]],
  [[-7.5,-20.1],[-7.35,-20.0],[-7.2,-20.3],[-7.0,-20.25],[-6.8,-20.5],[-6.6,-20.45],[-6.45,-20.75],[-6.25,-20.9],[-6.1,-20.85],[-5.9,-21.1],[-5.7,-21.3],[-5.55,-21.25],[-5.35,-21.6],[-5.15,-21.8],[-5.0,-21.7],[-4.8,-22.1],[-4.6,-22.4],[-4.45,-22.35],[-4.25,-22.7],[-4.05,-22.9],[-3.9,-23.2],[-3.75,-23.1],[-3.6,-23.45],[-3.45,-23.3],[-3.3,-22.9],[-3.15,-22.6],[-3.0,-22.65],[-2.85,-22.2],[-2.7,-21.9],[-2.55,-21.95],[-2.4,-21.5],[-2.2,-21.2],[-2.05,-21.25],[-1.9,-20.9],[-1.7,-20.7],[-1.5,-20.75],[-1.3,-20.5],[-1.1,-20.3],[-0.9,-20.35],[-0.7,-20.1],[-0.5,-19.95],[-0.3,-20.0],[-0.1,-19.8],[0.1,-19.7],[0.3,-19.75],[0.5,-19.55],[0.75,-19.5],[0.95,-19.6],[1.2,-19.45],[1.45,-19.5],[1.7,-19.3],[1.95,-19.35],[2.2,-19.2],[2.5,-19.25],[2.8,-19.1],[3.1,-19.15],[3.4,-19.3],[3.7,-19.25],[4.0,-19.45],[4.3,-19.5],[4.6,-19.35],[4.9,-19.4],[5.2,-19.2],[5.5,-19.25],[5.8,-19.5],[6.1,-19.55],[6.4,-19.8],[6.7,-19.75],[7.0,-20.0],[7.25,-19.9],[7.5,-20.1]],
  [[1.5,-24],[1.55,-21.0],[1.7,-20.4],[1.9,-20.0],[2.1,-19.7],[2.35,-19.5],[2.5,-19.2],[2.7,-19.0],[2.9,-18.95],[3.1,-19.1],[3.3,-18.9],[3.5,-18.8],[3.75,-18.85],[4.0,-18.75],[4.3,-18.8],[4.5,-18.95],[4.75,-19.1],[5.0,-19.05],[5.2,-19.3],[5.45,-19.5],[5.7,-19.45],[5.9,-19.7],[6.1,-19.9],[6.3,-20.2],[6.5,-20.5],[6.7,-20.45],[6.9,-20.8],[7.1,-21.2],[7.3,-21.5],[7.45,-21.4],[7.5,-21.6]],
  [[-7.5,-19.9],[-7.3,-19.8],[-7.1,-20.0],[-6.9,-19.9],[-6.7,-19.7],[-6.5,-19.4],[-6.3,-19.45],[-6.1,-19.2],[-5.9,-19.25],[-5.7,-19.5],[-5.5,-19.6],[-5.3,-19.45],[-5.1,-19.3],[-4.9,-19.35],[-4.7,-19.6],[-4.5,-19.9],[-4.3,-20.1],[-4.1,-20.05],[-3.9,-20.3],[-3.7,-20.6],[-3.5,-20.9],[-3.35,-20.85],[-3.2,-21.2],[-3.05,-21.6],[-2.9,-22.0],[-2.75,-22.4],[-2.6,-22.9],[-2.45,-23.3],[-2.35,-23.8],[-2.3,-24]],
  [[-1.8,-24],[-1.75,-22.6],[-1.6,-21.9],[-1.45,-21.4],[-1.3,-21.45],[-1.15,-21.0],[-1.0,-20.7],[-0.85,-20.75],[-0.7,-20.4],[-0.5,-20.2],[-0.3,-20.25],[-0.1,-19.9],[0.1,-19.65],[0.3,-19.7],[0.5,-19.4],[0.7,-19.3],[0.9,-19.35],[1.1,-19.1],[1.3,-19.0],[1.5,-19.05],[1.7,-19.25],[1.9,-19.5],[2.1,-19.45],[2.3,-19.7],[2.5,-20.0],[2.7,-20.3],[2.9,-20.25],[3.1,-20.6],[3.3,-21.0],[3.5,-21.4],[3.65,-21.35],[3.8,-21.8],[3.95,-22.3],[4.1,-22.9],[4.25,-23.5],[4.35,-24]],
  [[3.8,-24],[3.85,-22.8],[4.0,-22.2],[4.15,-21.7],[4.3,-21.75],[4.45,-21.3],[4.6,-21.0],[4.75,-21.05],[4.9,-20.7],[5.1,-20.5],[5.3,-20.55],[5.5,-20.3],[5.7,-20.25],[5.9,-20.4],[6.1,-20.6],[6.3,-20.55],[6.5,-20.3],[6.7,-20.1],[6.9,-20.2],[7.1,-19.9],[7.3,-19.8],[7.5,-19.6]],
  [[-7.5,-22.4],[-7.35,-22.8],[-7.2,-22.75],[-7.05,-23.1],[-6.9,-23.5],[-6.8,-24]],
  [[-4.1,-24],[-4.05,-20.2],[-3.8,-20.0],[-3.6,-20.3],[-3.4,-20.6],[-3.2,-20.55],[-3.0,-20.9],[-2.8,-21.3],[-2.6,-21.7],[-2.45,-21.65],[-2.3,-22.1],[-2.15,-22.6],[-2.0,-23.0],[-1.85,-23.4],[-1.7,-23.7],[-1.55,-23.5],[-1.4,-23.0],[-1.25,-22.5],[-1.1,-22.0],[-0.95,-21.5],[-0.8,-21.0],[-0.65,-20.6],[-0.5,-20.65],[-0.35,-20.3],[-0.2,-20.0],[0.0,-19.8],[0.2,-19.85],[0.4,-20.1],[0.6,-20.4],[0.8,-20.8],[0.95,-21.3],[1.1,-21.9],[1.2,-22.5],[1.3,-23.3],[1.35,-24]],
  [[1.8,-24],[1.85,-22.0],[2.0,-21.4],[2.2,-21.0],[2.4,-21.05],[2.6,-21.4],[2.8,-21.8],[3.0,-22.2],[3.2,-22.5],[3.4,-22.45],[3.6,-22.8],[3.8,-23.1],[4.0,-23.4],[4.15,-23.3],[4.3,-22.9],[4.45,-22.5],[4.6,-22.1],[4.8,-21.8],[5.0,-21.85],[5.2,-21.5],[5.4,-21.2],[5.6,-21.25],[5.8,-21.0],[6.0,-20.8],[6.2,-20.85],[6.4,-21.1],[6.6,-21.5],[6.75,-22.0],[6.9,-22.6],[7.0,-23.2],[7.05,-24]],
  [[-7.5,-18.9],[-7.4,-19.2],[-7.3,-19.1],[-7.15,-19.4],[-7.0,-19.3],[-6.85,-19.5],[-6.7,-19.35],[-6.5,-19.2],[-6.3,-19.25],[-6.1,-19.0],[-5.9,-19.05],[-5.7,-18.95],[-5.5,-19.1],[-5.3,-19.3],[-5.1,-19.25],[-4.9,-19.45],[-4.7,-19.7],[-4.5,-19.65],[-4.3,-19.85],[-4.1,-19.8],[-3.9,-19.6],[-3.7,-19.4],[-3.5,-19.45],[-3.3,-19.3],[-3.1,-19.35],[-2.9,-19.2],[-2.7,-19.3],[-2.5,-19.5],[-2.3,-19.45],[-2.1,-19.7],[-1.9,-19.9],[-1.7,-20.2],[-1.55,-20.15],[-1.4,-20.5],[-1.25,-21.0],[-1.1,-21.6],[-1.0,-22.3],[-0.9,-23.1],[-0.85,-24]],
  [[2.0,-24],[2.05,-20.5],[2.2,-20.0],[2.4,-19.7],[2.6,-19.75],[2.8,-19.5],[3.0,-19.3],[3.2,-19.35],[3.4,-19.1],[3.6,-19.15],[3.8,-19.3],[4.0,-19.25],[4.2,-19.5],[4.4,-19.45],[4.6,-19.2],[4.8,-18.9],[5.0,-18.85],[5.2,-19.0],[5.4,-18.95],[5.6,-19.2],[5.8,-19.15],[6.0,-19.4],[6.2,-19.7],[6.4,-19.65],[6.6,-19.9],[6.8,-20.2],[7.0,-20.15],[7.2,-20.4],[7.4,-20.3],[7.5,-20.5]]
];
var mbSouthMean = [[-7.5,-20.58],[-7.12,-20.63],[-7.0,-20.69],[-6.66,-20.75],[-6.5,-20.81],[-6.09,-20.88],[-5.63,-20.88],[-5.18,-20.91],[-4.72,-20.94],[-4.49,-21.03],[-4.26,-20.94],[-3.98,-20.75],[-3.81,-20.69],[-3.35,-20.63],[-3.12,-20.56],[-2.66,-20.5],[-2.43,-20.44],[-2.09,-20.22],[-1.92,-20.09],[-1.52,-20.03],[-0.95,-19.97],[-0.49,-19.91],[-0.15,-19.88],[0.19,-19.81],[0.42,-19.75],[0.59,-19.78],[0.71,-19.84],[0.88,-19.88],[0.99,-19.81],[1.11,-19.88],[1.45,-19.94],[1.91,-20.0],[2.37,-20.19],[2.59,-20.31],[2.82,-20.44],[3.05,-20.5],[3.28,-20.56],[3.85,-20.56],[4.08,-20.75],[4.19,-20.84],[4.54,-20.88],[4.77,-20.97],[4.88,-20.91],[5.34,-20.91],[5.91,-20.88],[6.25,-20.86],[6.37,-21.06],[6.82,-21.25],[7.16,-21.5],[7.33,-21.69],[7.5,-21.8]];
var mbSouthLevel = -20.2;

var W = 1147, H = 740;
var svg = d3.select("body").append("svg").attr("width", W).attr("height", H);

var panels = [
  {traces: lfNorthTraces, mean: lfNorthMean, level: null, left: 94, top: 12, bottom: 339, ytitle: "LF N-SKR  log[W/m^2/Hz]", titleX: 22, xtitle: null},
  {traces: mbNorthTraces, mean: mbNorthMean, level: mbNorthLevel, left: 94, top: 350, bottom: 678, ytitle: "MB N-SKR  log[W/m^2/Hz]", titleX: 22, xtitle: "Time after N-SKR burst onset [h]"},
  {traces: lfSouthTraces, mean: lfSouthMean, level: null, left: 673, top: 12, bottom: 339, ytitle: "LF S-SKR  log[W/m^2/Hz]", titleX: 603, xtitle: null},
  {traces: mbSouthTraces, mean: mbSouthMean, level: mbSouthLevel, left: 673, top: 350, bottom: 678, ytitle: "MB S-SKR  log[W/m^2/Hz]", titleX: 603, xtitle: "Time after S-SKR burst onset [h]"}
];

var plotWidth = 482;
var sansFont = "'Liberation Sans', Arial, Helvetica, sans-serif";
var serifFont = "'Liberation Serif', 'Times New Roman', Times, serif";

var xMinor = d3.range(-15, 16).map(function(i){ return i / 2; }).filter(function(v){ return v % 2 !== 0; });
var yMinor = d3.range(0, 61).map(function(i){ return -24 + i / 10; }).filter(function(v){ return Math.abs(v - Math.round(v)) > 0.01; });

function styleAxis(g, withText) {
  g.select(".domain").remove();
  g.selectAll("line").attr("stroke", "#000").attr("stroke-width", 1.2);
  if (withText) {
    g.selectAll("text").attr("font-family", sansFont).attr("font-size", 18).attr("fill", "#000");
  } else {
    g.selectAll("text").remove();
  }
}

panels.forEach(function(p, i){
  var x = d3.scaleLinear().domain([-7.5, 7.5]).range([p.left, p.left + plotWidth]);
  var y = d3.scaleLinear().domain([-24, -18]).range([p.bottom, p.top]);
  var right = p.left + plotWidth;
  var mid = (p.top + p.bottom) / 2;

  svg.append("clipPath").attr("id", "clip" + i).append("rect")
    .attr("x", p.left).attr("y", p.top).attr("width", plotWidth).attr("height", p.bottom - p.top);
  var plot = svg.append("g").attr("clip-path", "url(#clip" + i + ")");
  var line = d3.line().x(function(d){ return x(d[0]); }).y(function(d){ return y(d[1]); });

  plot.selectAll("path.trace").data(p.traces).enter().append("path")
    .attr("class", "trace").attr("d", line)
    .attr("fill", "none").attr("stroke", "#111").attr("stroke-width", 1).attr("stroke-linejoin", "round");

  plot.append("path").datum(p.mean).attr("d", line)
    .attr("fill", "none").attr("stroke", "#e8231f").attr("stroke-width", 4).attr("stroke-linejoin", "round");

  if (p.level !== null) {
    plot.append("line")
      .attr("x1", x(-7.5)).attr("x2", x(7.5)).attr("y1", y(p.level)).attr("y2", y(p.level))
      .attr("stroke", "#3b4ea6").attr("stroke-width", 6).attr("stroke-dasharray", "6,10");
  }

  plot.append("line")
    .attr("x1", x(0)).attr("x2", x(0)).attr("y1", p.top).attr("y2", p.bottom)
    .attr("stroke", "#000").attr("stroke-width", 3).attr("stroke-dasharray", "9,6");

  // ticks pointing inward on all four sides
  var gl = svg.append("g").attr("transform", "translate(" + p.left + ",0)")
    .call(d3.axisLeft(y).tickValues(yTickValues).tickSize(-10).tickPadding(8).tickFormat(d3.format("d")));
  styleAxis(gl, true);
  // end labels sit a little inside the frame, as in the original figure
  gl.selectAll("text").attr("dy", "0.35em").attr("y", function(d){ return (mid - y(d)) * 0.035; });
  styleAxis(svg.append("g").attr("transform", "translate(" + p.left + ",0)")
    .call(d3.axisLeft(y).tickValues(yMinor).tickSize(-5)), false);
  styleAxis(svg.append("g").attr("transform", "translate(" + right + ",0)")
    .call(d3.axisRight(y).tickValues(yTickValues).tickSize(-10)), false);
  styleAxis(svg.append("g").attr("transform", "translate(" + right + ",0)")
    .call(d3.axisRight(y).tickValues(yMinor).tickSize(-5)), false);

  var gb = svg.append("g").attr("transform", "translate(0," + p.bottom + ")")
    .call(d3.axisBottom(x).tickValues(xTickValues).tickSize(-10).tickPadding(17).tickFormat(d3.format("d")));
  styleAxis(gb, p.xtitle !== null);
  styleAxis(svg.append("g").attr("transform", "translate(0," + p.bottom + ")")
    .call(d3.axisBottom(x).tickValues(xMinor).tickSize(-5)), false);
  styleAxis(svg.append("g").attr("transform", "translate(0," + p.top + ")")
    .call(d3.axisTop(x).tickValues(xTickValues).tickSize(-10)), false);
  styleAxis(svg.append("g").attr("transform", "translate(0," + p.top + ")")
    .call(d3.axisTop(x).tickValues(xMinor).tickSize(-5)), false);

  svg.append("rect").attr("x", p.left).attr("y", p.top)
    .attr("width", plotWidth).attr("height", p.bottom - p.top)
    .attr("fill", "none").attr("stroke", "#000").attr("stroke-width", 1.6);

  svg.append("text")
    .attr("transform", "translate(" + p.titleX + "," + mid + ") rotate(-90)")
    .attr("text-anchor", "middle").attr("dy", "0.35em")
    .style("white-space", "pre")
    .attr("font-family", serifFont).attr("font-size", 22).attr("fill", "#000")
    .text(p.ytitle);

  if (p.xtitle) {
    svg.append("text")
      .attr("x", (p.left + right) / 2 + 7).attr("y", 734)
      .attr("text-anchor", "middle")
      .attr("font-family", serifFont).attr("font-size", 22).attr("fill", "#000")
      .text(p.xtitle);
  }
});
</script>
</body>
</html>
